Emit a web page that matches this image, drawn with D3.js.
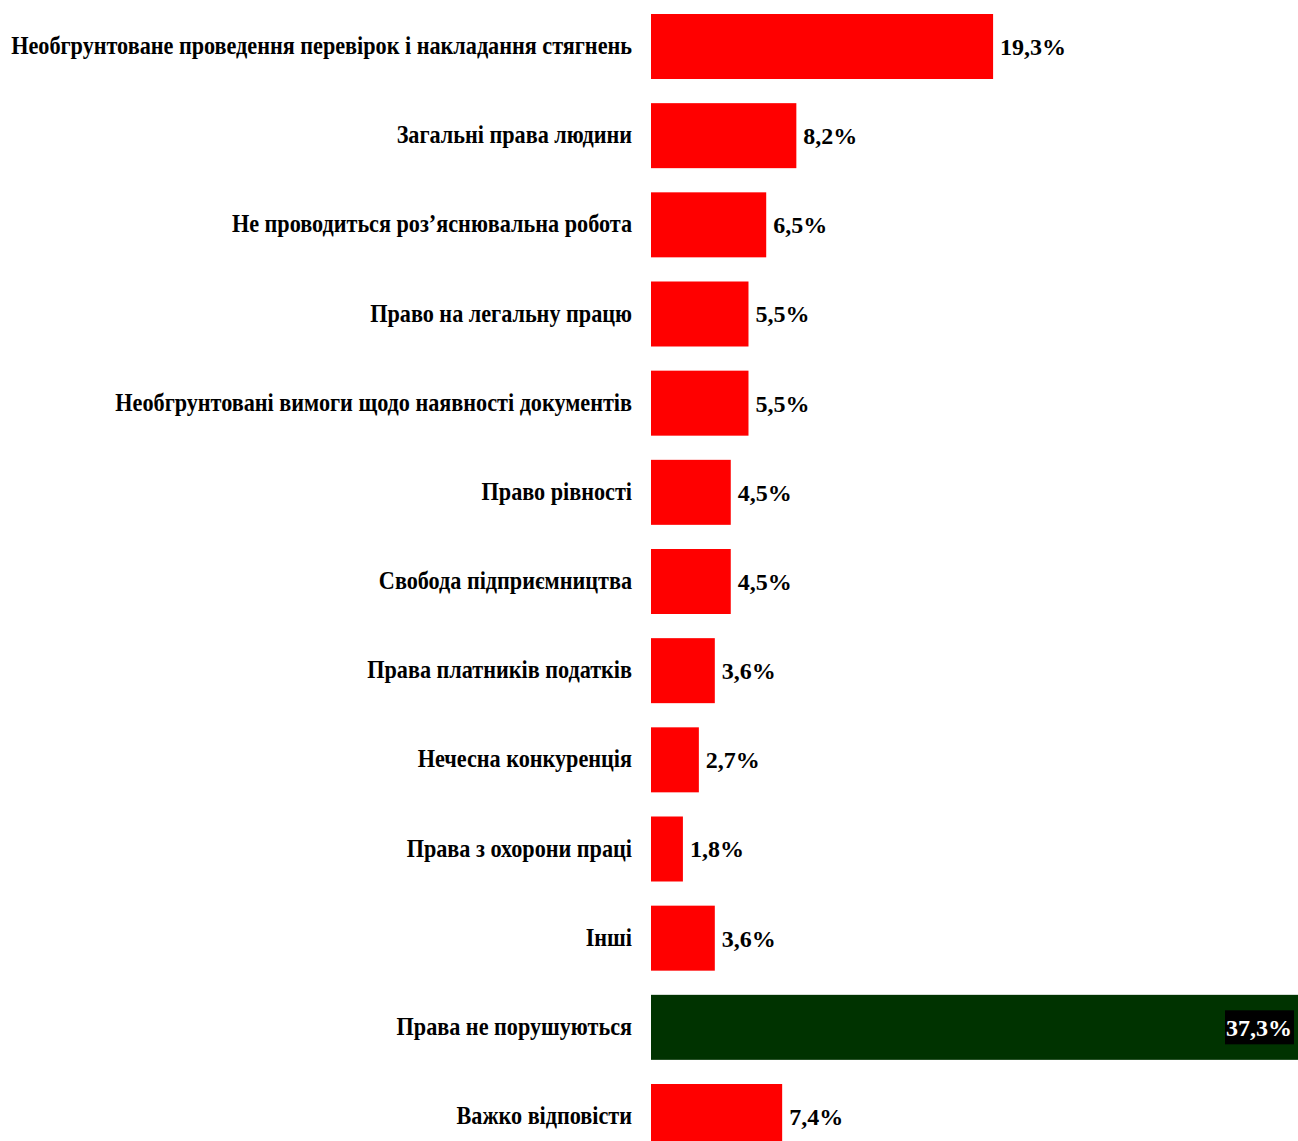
<!DOCTYPE html>
<html>
<head>
<meta charset="utf-8">
<script src="https://cdn.jsdelivr.net/npm/d3@7"></script>
<style>
  body { margin: 0; background: #fff; overflow: hidden; }
  svg { display: block; font-family: "Liberation Serif", "Times New Roman", serif; font-weight: bold; }
</style>
</head>
<body>
<svg id="chart" width="1298" height="1141"></svg>
<script>
const categories = [
    'Необгрунтоване проведення перевірок і накладання стягнень',
    'Загальні права людини',
    'Не проводиться роз’яснювальна робота',
    'Право на легальну працю',
    'Необгрунтовані вимоги щодо наявності документів',
    'Право рівності',
    'Свобода підприємництва',
    'Права платників податків',
    'Нечесна конкуренція',
    'Права з охорони праці',
    'Інші',
    'Права не порушуються',
    'Важко відповісти'
];
const values = [19.3, 8.2, 6.5, 5.5, 5.5, 4.5, 4.5, 3.6, 2.7, 1.8, 3.6, 37.3, 7.4];
const valueLabels = ['19,3%', '8,2%', '6,5%', '5,5%', '5,5%', '4,5%', '4,5%', '3,6%', '2,7%', '1,8%', '3,6%', '37,3%', '7,4%'];
const highlight = 'Права не порушуються';

const svg = d3.select('#chart');
const width = 1298;

// bars start at 651, scale is ~17.7 px per percent (the big bar runs off the page)
const x = d3.scaleLinear().domain([0, 40]).range([651, 651 + 709]);
const y = d3.scaleBand()
    .domain(categories)
    .range([0, 1163])
    .paddingInner(0.271)
    .paddingOuter(0.157);

const rows = svg.selectAll('.row')
    .data(categories.map((c, i) => ({ cat: c, value: values[i], label: valueLabels[i] })))
    .enter()
    .append('g')
    .attr('class', 'row');

rows.append('rect')
    .attr('x', x(0))
    .attr('y', d => y(d.cat))
    .attr('width', d => x(d.value) - x(0))
    .attr('height', y.bandwidth())
    .attr('fill', d => d.cat === highlight ? '#003300' : '#ff0000');

// category labels, condensed like the original
rows.append('text')
    .attr('transform', d => `translate(632,${y(d.cat) + y.bandwidth() / 2}) scale(0.888,1)`)
    .attr('text-anchor', 'end')
    .attr('dy', '0.3em')
    .style('font-size', '25px')
    .attr('fill', '#000')
    .text(d => d.cat);

rows.each(function(d) {
    const g = d3.select(this);
    const cy = y(d.cat) + y.bandwidth() / 2;
    if (d.cat === highlight) {
        // label sits inside the bar, white on black box
        const t = g.append('text')
            .attr('x', width - 6)
            .attr('y', cy)
            .attr('dy', '0.35em')
            .attr('text-anchor', 'end')
            .style('font-size', '24px')
            .attr('fill', '#fff')
            .text(d.label);
        const bb = t.node().getBBox();
        g.insert('rect', 'text:last-child')
            .attr('x', bb.x - 1)
            .attr('y', cy - 17)
            .attr('width', bb.width + 3)
            .attr('height', 34)
            .attr('fill', '#000');
    } else {
        g.append('text')
            .attr('x', x(d.value) + 7)
            .attr('y', cy)
            .attr('dy', '0.35em')
            .style('font-size', '24px')
            .attr('fill', '#000')
            .text(d.label);
    }
});
</script>
</body>
</html>
